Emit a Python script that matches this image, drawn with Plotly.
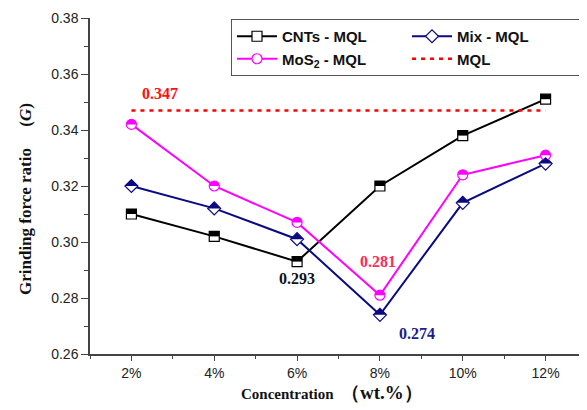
import math
import plotly.graph_objects as go

conc = [2, 4, 6, 8, 10, 12]
cnts = [0.310, 0.302, 0.293, 0.320, 0.338, 0.351]
mos2 = [0.342, 0.320, 0.307, 0.281, 0.324, 0.331]
mix = [0.320, 0.312, 0.301, 0.274, 0.314, 0.328]
mql = [0.347] * 6

BLACK = "#000000"
MAG = "#ff00ff"
NAVY = "#0a0a82"
RED = "#ff0000"

# page has an 8px body margin, so compensate
W, H = 579, 402
ML, MR, MT, MB = 82, 0, 10, 56
PW, PH = W - ML - MR, H - MT - MB

fig = go.Figure()

def base(name, y, color, sym, size):
    fig.add_trace(go.Scatter(
        x=conc, y=y, name=name, mode="lines+markers",
        line=dict(color=color, width=2),
        marker=dict(symbol=sym, size=size, color="white", line=dict(color=color, width=1.2)),
    ))

def half_fill(xs, ys, path, color):
    for xv, yv in zip(xs, ys):
        fig.add_shape(type="path", xsizemode="pixel", ysizemode="pixel",
                      xanchor=xv, yanchor=yv, xref="x", yref="y",
                      path=path, fillcolor=color, line=dict(width=0), layer="above")

SQ_TOP = "M-5,0 L5,0 L5,5 L-5,5 Z"
DI_TOP = "M-6.5,0 L0,6.5 L6.5,0 Z"
pts = [(5 * math.cos(math.pi * k / 16), 5 * math.sin(math.pi * k / 16)) for k in range(17)]
CI_TOP = "M" + " L".join(f"{a:.2f},{b:.2f}" for a, b in pts) + " Z"

base("CNTs - MQL", cnts, BLACK, "square", 10)
base("Mix - MQL", mix, NAVY, "diamond", 10)
base("MoS<sub>2</sub> - MQL", mos2, MAG, "circle", 10)

fig.add_trace(go.Scatter(
    x=conc, y=mql, name="MQL", mode="lines",
    line=dict(color=RED, width=2.5, dash="4px,5px"),
))

half_fill(conc, cnts, SQ_TOP, BLACK)
half_fill(conc, mix, DI_TOP, NAVY)
half_fill(conc, mos2, CI_TOP, MAG)

annots = [
    (conc[0], mql[0], "0.347", "#ff1010", 29, 17),
    (conc[2], cnts[2], "0.293", "#111111", 0, -17),
    (conc[3], mos2[3], "0.281", "#ff2a5a", -2, 34),
    (conc[3], mix[3], "0.274", "#1c1c8c", 37, -19),
]
for x, y, t, c, xs, ys in annots:
    fig.add_annotation(x=x, y=y, text="<b>" + t + "</b>", showarrow=False,
                       xshift=xs, yshift=ys,
                       font=dict(family="Liberation Serif", size=16, color=c))

# axis titles
fig.add_annotation(xref="paper", yref="paper", x=(324 - ML) / PW, y=-38 / PH,
                   xanchor="center", yanchor="middle", showarrow=False,
                   text="<b>Concentration  <span style='font-size:19px'>（wt.%）</span></b>",
                   font=dict(family="Liberation Serif", size=15, color="#111111"))
fig.add_annotation(xref="paper", yref="paper", x=(17 - ML) / PW, y=(346 - 191) / PH,
                   xanchor="center", yanchor="middle", showarrow=False, textangle=-90,
                   text="<b>Grinding force ratio     (<i>G</i>)</b>",
                   font=dict(family="Liberation Serif", size=17, color="#111111"))

fig.update_layout(
    width=W, height=H,
    margin=dict(l=ML, r=MR, t=MT, b=MB, autoexpand=False),
    paper_bgcolor="white", plot_bgcolor="white",
    showlegend=True,
    legend=dict(
        orientation="h", x=(583 - 90) / 497, y=0.997, xanchor="right", yanchor="top",
        bordercolor="#555555", borderwidth=1, bgcolor="white",
        entrywidth=120, entrywidthmode="pixels", itemwidth=40,
        font=dict(family="Liberation Sans", size=15, color="#111111", weight="bold"),
        tracegroupgap=0,
    ),
    font=dict(family="Liberation Sans", size=14, color="#222222"),
)

fig.update_xaxes(
    range=[1, 13], tick0=2, dtick=2, ticksuffix="%", automargin=False,
    showline=True, linecolor="#444444", linewidth=1.5,
    ticks="outside", ticklen=5, tickcolor="#444444",
    minor=dict(dtick=1, tick0=1, ticks="outside", ticklen=3, tickcolor="#444444"),
    showgrid=False, zeroline=False,
    tickfont=dict(family="Liberation Sans", size=14, color="#222222"),
)
fig.update_yaxes(
    range=[0.26, 0.38], dtick=0.02, tickformat=".2f", automargin=False,
    showline=True, linecolor="#444444", linewidth=1.5,
    ticks="outside", ticklen=7, tickcolor="#444444",
    minor=dict(dtick=0.01, ticks="outside", ticklen=4, tickcolor="#444444"),
    showgrid=False, zeroline=False,
    tickfont=dict(family="Liberation Sans", size=14, color="#222222"),
)

fig.write_html("out.html")
